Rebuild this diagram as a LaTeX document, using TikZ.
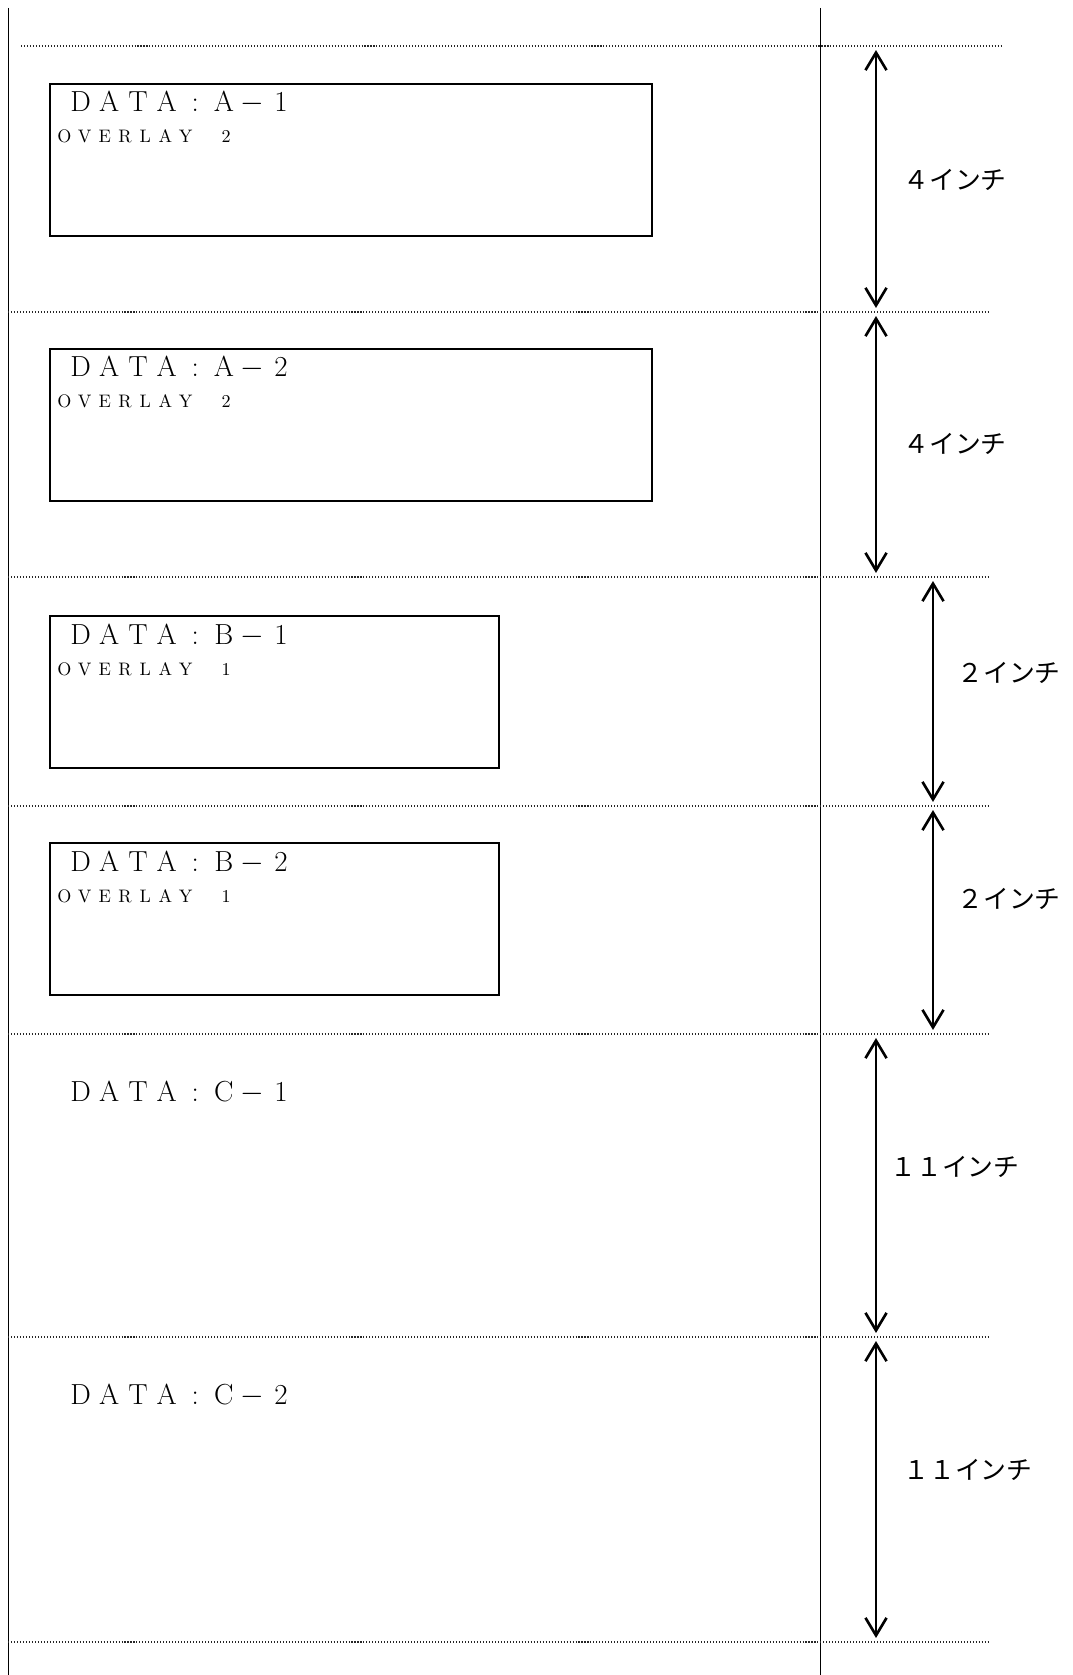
\documentclass[tikz,border=0pt]{standalone}
\usepackage{fontspec}
\newfontfamily\jpfont{Noto Sans CJK JP}
\usepackage{tikz}
\usetikzlibrary{arrows.meta, positioning, calc}

\newlength\fwcell
\def\fwloop#1{\ifx#1\relax\else\makebox[\fwcell]{#1}\expandafter\fwloop\fi}
\newcommand\fullw[2]{\setlength\fwcell{#1}\fwloop#2\relax}
\newcommand\fwminus{\ensuremath{-}}

\begin{document}
\begin{tikzpicture}[
        x=0.02cm, y=-0.02cm,
        frameline/.style = {line width=1.1pt, black},
        guide/.style = {line width=0.6pt, black!85, dash pattern=on 0.6pt off 1.1pt},
        databox/.style = {draw, line width=1.1pt, rectangle, inner sep=0pt, minimum height=3.04cm},
        datatitle/.style = {anchor=base west, inner sep=0pt, font=\fontsize{16.5}{16.5}\selectfont},
        ovltext/.style = {anchor=base west, inner sep=0pt, font=\fontsize{10.3}{10.3}\selectfont},
        dimlabel/.style = {inner sep=0pt, font=\jpfont\fontsize{14.7}{15}\selectfont},
        dimarrow/.style = {{Straight Barb[length=10pt,width=12pt]}-{Straight Barb[length=10pt,width=12pt]}, line width=1.5pt, shorten <=2.3pt, shorten >=2.3pt}
    ]
        \useasboundingbox (0,0) rectangle (1072,1675);

        % Frame
        \draw [frameline] (8.5,8) -- (8.5,1675);
        \draw [frameline] (820.5,8) -- (820.5,1675);
        \draw [guide] (21,46) -- (1002,46);
        \draw [guide] (8,312) -- (988,312);
        \draw [guide] (8,577) -- (988,577);
        \draw [guide] (8,806) -- (988,806);
        \draw [guide] (8,1034) -- (988,1034);
        \draw [guide] (8,1337) -- (988,1337);
        \draw [guide] (8,1642) -- (988,1642);

        % Nodes
        \node [databox, minimum width=12.04cm] (boxA1) at (351,160) {};
        \node [databox, minimum width=12.04cm] (boxA2) at (351,425) {};
        \node [databox, minimum width=8.98cm] (boxB1) at (274.5,692) {};
        \node [databox, minimum width=8.98cm] (boxB2) at (274.5,919) {};

        \node [datatitle] (titleA1) at (66,112) {\fullw{16.3pt}{DATA:A\fwminus1}};
        \node [ovltext] (ovlA1) at (54,143) {\fullw{11.5pt}{OVERLAY~2}};
        \node [datatitle] (titleA2) at (66,377) {\fullw{16.3pt}{DATA:A\fwminus2}};
        \node [ovltext] (ovlA2) at (54,408) {\fullw{11.5pt}{OVERLAY~2}};
        \node [datatitle] (titleB1) at (66,644) {\fullw{16.3pt}{DATA:B\fwminus1}};
        \node [ovltext] (ovlB1) at (54,675) {\fullw{11.5pt}{OVERLAY~1}};
        \node [datatitle] (titleB2) at (66,871) {\fullw{16.3pt}{DATA:B\fwminus2}};
        \node [ovltext] (ovlB2) at (54,902) {\fullw{11.5pt}{OVERLAY~1}};
        \node [datatitle] (titleC1) at (66,1101) {\fullw{16.3pt}{DATA:C\fwminus1}};
        \node [datatitle] (titleC2) at (66,1404) {\fullw{16.3pt}{DATA:C\fwminus2}};

        \coordinate (p0) at (876,46);
        \coordinate (p1) at (876,312);
        \coordinate (p2) at (876,577);
        \coordinate (q2) at (933,577);
        \coordinate (q3) at (933,806);
        \coordinate (q4) at (933,1034);
        \coordinate (p4) at (876,1034);
        \coordinate (p5) at (876,1337);
        \coordinate (p6) at (876,1642);

        \node [dimlabel] (len1) at (955,180) {４インチ};
        \node [dimlabel] (len2) at (955,444) {４インチ};
        \node [dimlabel] (len3) at (1009,673) {２インチ};
        \node [dimlabel] (len4) at (1009,899) {２インチ};
        \node [dimlabel] (len5) at (955,1167) {１１インチ};
        \node [dimlabel] (len6) at (968,1470) {１１インチ};

        % Connectors
        \draw [dimarrow] (p0) -- (p1);
        \draw [dimarrow] (p1) -- (p2);
        \draw [dimarrow] (q2) -- (q3);
        \draw [dimarrow] (q3) -- (q4);
        \draw [dimarrow] (p4) -- (p5);
        \draw [dimarrow] (p5) -- (p6);
    \end{tikzpicture}
\end{document}
